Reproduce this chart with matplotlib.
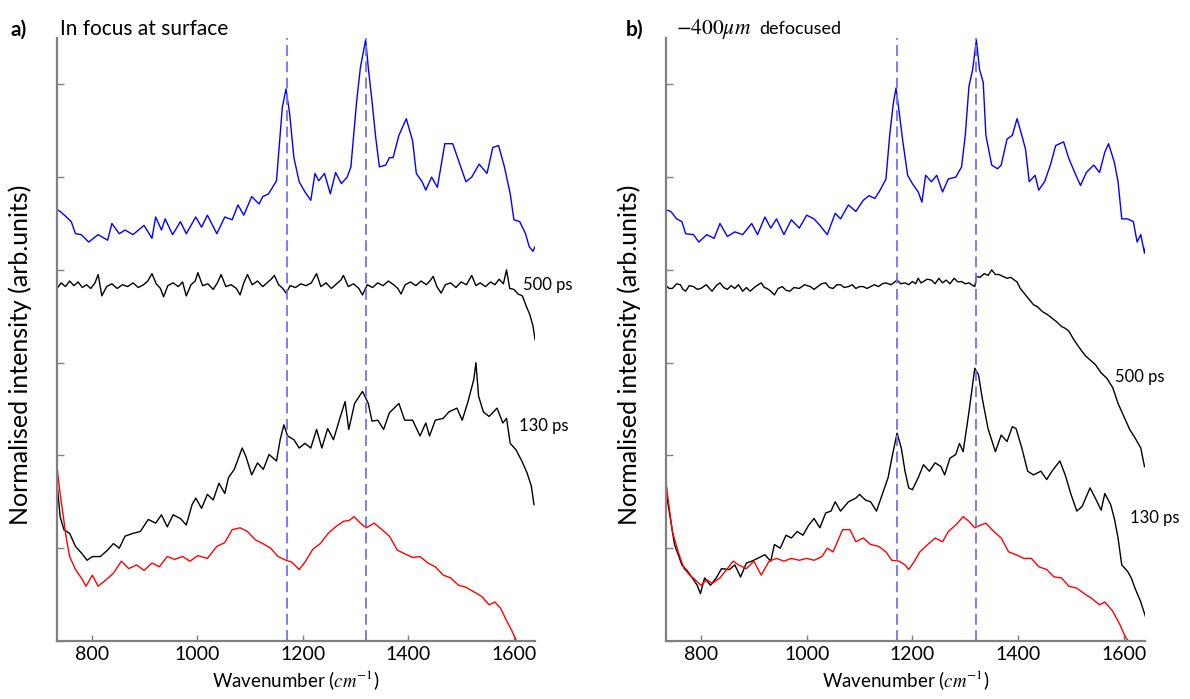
# Raman spectra at two focus positions, 500 ps vs 130 ps pulses
import matplotlib
matplotlib.use("Agg")
import matplotlib.pyplot as plt

plt.rcParams['font.family'] = ['Lato', 'DejaVu Sans']
plt.rcParams['mathtext.fontset'] = 'stix'

# ---- panel a) in focus at surface ----
a_blue_wn = [734, 740, 750, 761, 769, 780, 794, 812, 830, 838, 852, 863, 878, 899, 914, 921, 932, 939, 953, 968,
             979, 997, 1008, 1019, 1037, 1052, 1066, 1077, 1088, 1103, 1117, 1124, 1135, 1150, 1161, 1168, 1175, 1183,
             1193, 1204, 1215, 1223, 1230, 1241, 1252, 1262, 1273, 1284, 1291, 1302, 1309, 1319, 1324, 1331, 1338,
             1345, 1357, 1364, 1371, 1382, 1396, 1408, 1415, 1426, 1433, 1444, 1455, 1469, 1484, 1495, 1509, 1520,
             1534, 1549, 1560, 1571, 1582, 1593, 1600, 1611, 1622, 1629, 1636, 1640]
a_blue = [4.65, 4.63, 4.58, 4.52, 4.39, 4.38, 4.30, 4.38, 4.32, 4.50, 4.39, 4.43, 4.38, 4.48, 4.34, 4.57, 4.43, 4.55,
          4.38, 4.52, 4.39, 4.57, 4.46, 4.59, 4.39, 4.57, 4.54, 4.70, 4.59, 4.79, 4.71, 4.79, 4.82, 4.96, 5.75, 5.95,
          5.68, 5.21, 4.95, 4.84, 4.75, 5.04, 4.96, 5.04, 4.82, 5.05, 4.93, 5.00, 5.11, 5.82, 6.18, 6.48, 6.18, 5.82,
          5.43, 5.11, 5.13, 5.21, 5.21, 5.45, 5.63, 5.39, 5.04, 4.95, 4.86, 5.00, 4.89, 5.36, 5.36, 5.18, 4.95, 5.00,
          5.14, 5.04, 5.32, 5.34, 5.11, 4.82, 4.54, 4.52, 4.39, 4.25, 4.20, 4.25]

a_500_wn = [734, 742, 750, 758, 766, 774, 782, 790, 798, 806, 812, 819, 828, 838, 848, 858, 868, 878, 888, 898,
            906, 914, 922, 930, 936, 944, 954, 964, 972, 979, 988, 996, 1001, 1010, 1020, 1030, 1038, 1045, 1054,
            1064, 1074, 1081, 1088, 1095, 1104, 1114, 1124, 1132, 1140, 1146, 1154, 1162, 1168, 1176, 1186, 1196,
            1206, 1216, 1226, 1234, 1244, 1254, 1264, 1272, 1277, 1286, 1296, 1306, 1313, 1322, 1332, 1342, 1352,
            1362, 1372, 1380, 1386, 1394, 1404, 1414, 1424, 1434, 1442, 1447, 1454, 1462, 1470, 1480, 1490, 1500,
            1510, 1520, 1528, 1536, 1546, 1556, 1564, 1572, 1580, 1586, 1592, 1600, 1608, 1616, 1624, 1630, 1636,
            1640]
a_500 = [3.80, 3.86, 3.82, 3.88, 3.83, 3.87, 3.81, 3.84, 3.80, 3.86, 3.95, 3.72, 3.82, 3.85, 3.80, 3.84, 3.82, 3.86,
         3.81, 3.84, 3.88, 3.96, 3.85, 3.80, 3.71, 3.83, 3.86, 3.82, 3.87, 3.72, 3.84, 3.88, 3.97, 3.83, 3.85, 3.79,
         3.86, 3.95, 3.82, 3.84, 3.80, 3.73, 3.86, 3.95, 3.84, 3.88, 3.82, 3.86, 3.90, 3.94, 3.84, 3.80, 3.75, 3.83,
         3.81, 3.85, 3.83, 3.86, 3.96, 3.82, 3.86, 3.80, 3.85, 3.89, 3.94, 3.82, 3.85, 3.80, 3.73, 3.84, 3.81, 3.86,
         3.83, 3.88, 3.84, 3.80, 3.74, 3.84, 3.87, 3.83, 3.88, 3.84, 3.89, 3.93, 3.82, 3.75, 3.84, 3.86, 3.81, 3.87,
         3.84, 3.94, 3.83, 3.86, 3.82, 3.87, 3.84, 3.90, 3.85, 4.00, 3.80, 3.79, 3.74, 3.72, 3.60, 3.52, 3.40, 3.25]

a_130_wn = [734, 740, 747, 758, 769, 780, 791, 801, 816, 830, 841, 852, 863, 878, 892, 907, 921, 932, 943, 954,
            968, 979, 990, 997, 1008, 1019, 1030, 1041, 1052, 1059, 1070, 1085, 1092, 1103, 1114, 1125, 1136, 1150,
            1157, 1164, 1171, 1183, 1193, 1204, 1215, 1226, 1236, 1247, 1258, 1269, 1280, 1287, 1298, 1313, 1324,
            1331, 1342, 1353, 1364, 1382, 1393, 1408, 1422, 1433, 1440, 1451, 1466, 1477, 1492, 1502, 1513, 1524,
            1528, 1533, 1542, 1553, 1568, 1579, 1586, 1593, 1604, 1615, 1625, 1633, 1638]
a_130 = [1.70, 1.34, 1.20, 1.16, 1.02, 0.95, 0.87, 0.91, 0.91, 0.98, 1.05, 1.00, 1.13, 1.16, 1.18, 1.31, 1.27, 1.36,
         1.23, 1.36, 1.32, 1.25, 1.47, 1.54, 1.43, 1.58, 1.52, 1.70, 1.59, 1.76, 1.85, 2.08, 1.99, 1.79, 1.92, 1.85,
         2.01, 1.94, 2.17, 2.33, 2.21, 2.17, 2.08, 2.13, 2.08, 2.28, 2.08, 2.29, 2.17, 2.38, 2.58, 2.28, 2.56, 2.69,
         2.56, 2.37, 2.38, 2.28, 2.46, 2.56, 2.38, 2.38, 2.21, 2.35, 2.21, 2.38, 2.40, 2.47, 2.51, 2.38, 2.58, 2.82,
         3.00, 2.64, 2.47, 2.42, 2.51, 2.35, 2.40, 2.13, 2.06, 1.94, 1.81, 1.67, 1.47]

a_red_wn = [734, 739, 746, 751, 758, 769, 780, 789, 801, 812, 827, 841, 856, 870, 885, 899, 914, 928, 943, 957,
            972, 986, 1001, 1019, 1037, 1052, 1066, 1081, 1095, 1110, 1124, 1139, 1153, 1168, 1179, 1193, 1204,
            1219, 1233, 1248, 1262, 1277, 1288, 1297, 1309, 1320, 1335, 1350, 1364, 1379, 1393, 1408, 1422, 1437,
            1451, 1466, 1480, 1495, 1509, 1524, 1539, 1553, 1564, 1575, 1586, 1597, 1604, 1615]
a_red = [1.88, 1.63, 1.34, 1.13, 0.91, 0.77, 0.68, 0.59, 0.71, 0.59, 0.66, 0.73, 0.86, 0.78, 0.82, 0.76, 0.84, 0.80,
         0.91, 0.88, 0.91, 0.86, 0.92, 0.89, 1.02, 1.06, 1.20, 1.22, 1.18, 1.09, 1.05, 1.00, 0.91, 0.87, 0.85, 0.77,
         0.85, 0.99, 1.05, 1.16, 1.23, 1.29, 1.30, 1.34, 1.27, 1.22, 1.27, 1.20, 1.13, 0.98, 0.94, 0.90, 0.91, 0.84,
         0.80, 0.71, 0.68, 0.60, 0.58, 0.53, 0.48, 0.39, 0.42, 0.35, 0.22, 0.10, 0.01, -0.08]

# ---- panel b) -400 um defocused ----
b_blue_wn = [732, 743, 754, 764, 771, 786, 796, 811, 825, 836, 850, 864, 879, 896, 907, 921, 932, 943, 957, 971,
             986, 1000, 1014, 1025, 1039, 1054, 1064, 1079, 1093, 1107, 1118, 1129, 1139, 1150, 1157, 1164, 1169,
             1175, 1182, 1191, 1200, 1211, 1218, 1225, 1236, 1246, 1257, 1268, 1282, 1293, 1300, 1307, 1314, 1321,
             1327, 1334, 1339, 1350, 1361, 1368, 1379, 1389, 1398, 1407, 1414, 1421, 1432, 1439, 1450, 1461, 1471,
             1486, 1496, 1507, 1518, 1529, 1543, 1554, 1564, 1571, 1582, 1589, 1596, 1607, 1618, 1625, 1632, 1639,
             1641]
b_blue = [4.65, 4.63, 4.55, 4.52, 4.39, 4.38, 4.30, 4.38, 4.34, 4.50, 4.36, 4.41, 4.38, 4.50, 4.38, 4.57, 4.45, 4.55,
          4.38, 4.54, 4.45, 4.59, 4.55, 4.48, 4.38, 4.61, 4.55, 4.70, 4.63, 4.75, 4.80, 4.77, 4.86, 4.98, 5.45, 5.80,
          5.96, 5.70, 5.38, 5.02, 4.93, 4.84, 4.73, 5.02, 4.95, 5.02, 4.84, 4.98, 5.00, 5.11, 5.45, 5.98, 6.16, 6.48,
          6.16, 6.02, 5.45, 5.13, 5.09, 5.13, 5.41, 5.45, 5.63, 5.45, 5.30, 4.95, 5.02, 4.86, 4.95, 5.13, 5.34, 5.38,
          5.20, 5.05, 4.91, 5.05, 5.13, 5.05, 5.27, 5.36, 5.16, 4.95, 4.55, 4.55, 4.52, 4.30, 4.38, 4.18, 4.25]

b_500_wn = [732, 740, 746, 754, 761, 766, 771, 778, 786, 793, 800, 810, 821, 829, 836, 843, 850, 857, 864, 871,
            879, 886, 893, 903, 914, 920, 925, 932, 939, 946, 954, 961, 968, 976, 986, 996, 1007, 1014, 1021, 1028,
            1036, 1043, 1050, 1057, 1064, 1071, 1079, 1086, 1093, 1100, 1107, 1114, 1121, 1128, 1136, 1143, 1150,
            1160, 1171, 1178, 1186, 1193, 1200, 1206, 1211, 1216, 1221, 1228, 1236, 1243, 1250, 1257, 1264, 1271,
            1279, 1286, 1293, 1300, 1307, 1312, 1318, 1321, 1328, 1336, 1343, 1350, 1357, 1364, 1371, 1379, 1386,
            1393, 1398, 1404, 1414, 1421, 1429, 1437, 1446, 1455, 1464, 1473, 1482, 1489, 1496, 1504, 1511, 1521,
            1528, 1536, 1546, 1557, 1568, 1579, 1589, 1600, 1611, 1621, 1632, 1639]
b_500 = [3.84, 3.80, 3.80, 3.85, 3.84, 3.79, 3.77, 3.83, 3.82, 3.79, 3.80, 3.84, 3.77, 3.83, 3.86, 3.81, 3.79, 3.83,
         3.80, 3.84, 3.77, 3.81, 3.77, 3.82, 3.86, 3.81, 3.80, 3.77, 3.73, 3.80, 3.82, 3.78, 3.77, 3.81, 3.80, 3.84,
         3.82, 3.79, 3.82, 3.85, 3.86, 3.81, 3.80, 3.84, 3.84, 3.81, 3.82, 3.84, 3.80, 3.82, 3.82, 3.80, 3.82, 3.84,
         3.82, 3.85, 3.86, 3.84, 3.89, 3.85, 3.86, 3.84, 3.875, 3.85, 3.91, 3.86, 3.875, 3.90, 3.89, 3.85, 3.91, 3.86,
         3.89, 3.85, 3.91, 3.87, 3.875, 3.85, 3.86, 3.84, 3.82, 3.93, 3.92, 3.96, 3.94, 4.00, 3.95, 3.95, 3.93, 3.91,
         3.92, 3.89, 3.87, 3.80, 3.73, 3.68, 3.625, 3.60, 3.55, 3.52, 3.48, 3.44, 3.39, 3.37, 3.34, 3.26, 3.20, 3.12,
         3.07, 3.03, 2.98, 2.89, 2.83, 2.73, 2.56, 2.42, 2.28, 2.19, 2.08, 1.88]

b_130_wn = [732, 736, 743, 750, 757, 764, 775, 786, 793, 799, 807, 818, 829, 839, 854, 864, 875, 886, 896, 907,
            921, 932, 939, 950, 961, 971, 982, 993, 1004, 1014, 1025, 1036, 1046, 1054, 1064, 1079, 1093, 1100, 1111,
            1121, 1132, 1143, 1154, 1161, 1171, 1179, 1186, 1193, 1200, 1211, 1221, 1232, 1243, 1254, 1261, 1271,
            1282, 1289, 1296, 1307, 1318, 1325, 1332, 1343, 1357, 1368, 1379, 1389, 1396, 1407, 1418, 1429, 1443,
            1454, 1464, 1479, 1489, 1500, 1511, 1521, 1536, 1546, 1557, 1564, 1575, 1582, 1589, 1596, 1607, 1614,
            1621, 1632, 1641]
b_130 = [1.90, 1.54, 1.29, 1.04, 0.93, 0.82, 0.75, 0.66, 0.60, 0.51, 0.68, 0.60, 0.68, 0.78, 0.77, 0.82, 0.69, 0.84,
         0.86, 0.89, 0.93, 0.86, 1.04, 1.00, 1.14, 1.11, 1.18, 1.14, 1.25, 1.32, 1.22, 1.38, 1.40, 1.50, 1.40, 1.50,
         1.54, 1.58, 1.52, 1.50, 1.40, 1.58, 1.76, 1.97, 2.24, 2.08, 1.83, 1.65, 1.63, 1.76, 1.90, 1.83, 1.92, 1.88,
         1.79, 1.97, 2.01, 2.13, 2.04, 2.47, 2.94, 2.87, 2.62, 2.29, 2.04, 2.22, 2.15, 2.31, 2.29, 2.08, 1.83, 1.79,
         1.83, 1.74, 1.83, 1.94, 1.79, 1.58, 1.40, 1.45, 1.65, 1.54, 1.41, 1.59, 1.47, 1.32, 1.11, 0.82, 0.75, 0.68,
         0.57, 0.42, 0.26]

b_red_wn = [730, 736, 746, 757, 768, 779, 789, 800, 811, 821, 836, 850, 861, 871, 886, 900, 914, 929, 943, 957,
            971, 986, 1000, 1014, 1029, 1039, 1050, 1068, 1082, 1093, 1107, 1121, 1136, 1150, 1161, 1175, 1186,
            1193, 1204, 1214, 1229, 1243, 1257, 1268, 1282, 1296, 1307, 1318, 1329, 1339, 1354, 1368, 1382, 1396,
            1411, 1425, 1439, 1454, 1468, 1482, 1496, 1511, 1525, 1539, 1554, 1564, 1579, 1593, 1604, 1614, 1622]
b_red = [1.90, 1.61, 1.18, 0.96, 0.78, 0.71, 0.66, 0.60, 0.66, 0.62, 0.68, 0.78, 0.86, 0.82, 0.78, 0.86, 0.71, 0.86,
         0.89, 0.86, 0.89, 0.87, 0.89, 0.87, 0.91, 1.00, 0.96, 1.20, 1.20, 1.07, 1.11, 1.04, 1.02, 0.96, 0.87, 0.86,
         0.82, 0.77, 0.86, 0.96, 1.04, 1.11, 1.07, 1.18, 1.25, 1.34, 1.29, 1.22, 1.25, 1.27, 1.18, 1.11, 0.96, 0.93,
         0.89, 0.89, 0.80, 0.77, 0.69, 0.68, 0.59, 0.57, 0.51, 0.46, 0.39, 0.42, 0.32, 0.17, 0.03, -0.03, -0.08]

peak_lines = [1170, 1320]
x_ticks = [800, 1000, 1200, 1400, 1600]

# label positions (wavenumber, intensity)
a_labels = [("500 ps", 1617, 3.84), ("130 ps", 1610, 2.32)]
b_labels = [("500 ps", 1583, 2.85), ("130 ps", 1611, 1.33)]

fig = plt.figure(figsize=(11.9, 6.99), dpi=100)
ax_a = fig.add_axes([0.0479, 0.083, 0.4017, 0.8627])
ax_b = fig.add_axes([0.5597, 0.083, 0.4025, 0.8627])

panels = [
    (ax_a, [(a_blue_wn, a_blue, "#0000ff"), (a_500_wn, a_500, "black"),
            (a_130_wn, a_130, "black"), (a_red_wn, a_red, "#ff0000")], a_labels),
    (ax_b, [(b_blue_wn, b_blue, "#0000ff"), (b_500_wn, b_500, "black"),
            (b_130_wn, b_130, "black"), (b_red_wn, b_red, "#ff0000")], b_labels),
]

for ax, curves, labels in panels:
    for wn, y, col in curves:
        ax.plot(wn, y, color=col, lw=1.0)
    for x in peak_lines:
        ax.axvline(x, color="#7272f2", lw=1.3, ls=(0, (6, 3)))
    for txt, x, y in labels:
        ax.text(x, y, txt, fontsize=12, ha="left", va="center", clip_on=False)

    ax.set_xlim(734, 1640)
    ax.set_ylim(0, 6.5)
    ax.set_xticks(x_ticks)
    ax.set_yticks([0, 1, 2, 3, 4, 5, 6])
    ax.set_yticklabels([])
    ax.tick_params(direction="in", length=4, width=1, color="#808080", labelsize=14)
    ax.tick_params(axis="y", length=5)
    for side in ["top", "right"]:
        ax.spines[side].set_visible(False)
    for side in ["left", "bottom"]:
        ax.spines[side].set_color("#808080")
        ax.spines[side].set_linewidth(1.6)

    ax.set_xlabel(r"Wavenumber ($cm^{-1}$)", fontsize=13.5, labelpad=4)
    ax.set_ylabel("Normalised intensity (arb.units)", fontsize=18)
    ax.yaxis.set_label_coords(-0.052, 0.475)

fig.text(0.009, 0.958, "a)", fontsize=15, fontweight="bold", va="center")
fig.text(0.0505, 0.958, "In focus at surface", fontsize=15, va="center")
fig.text(0.526, 0.958, "b)", fontsize=15, fontweight="bold", va="center")
fig.text(0.568, 0.958, r"$-400\mu m$", fontsize=15.5, va="center")
fig.text(0.638, 0.958, "defocused", fontsize=13, va="center")

fig.savefig("out.png", dpi=100)
